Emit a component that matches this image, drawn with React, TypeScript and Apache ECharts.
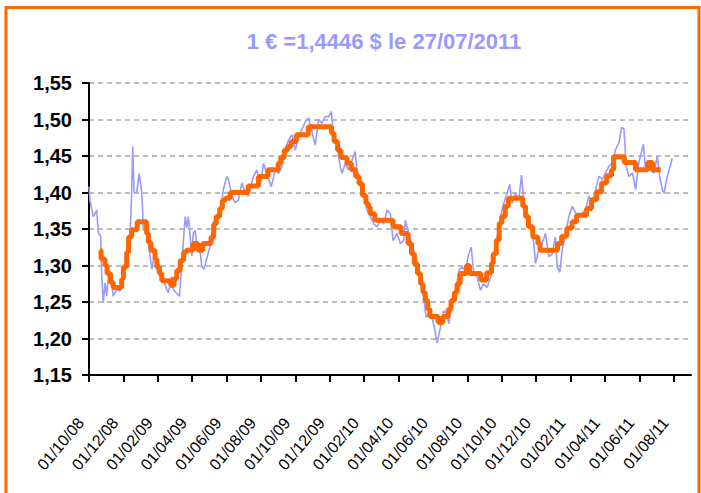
import React, { useEffect, useRef } from "react";
import * as echarts from "echarts";

// Month index: 0 = 01/10/2008, 2 = 01/12/2008, ... 34 = 01/08/2011
const xTickLabels = [
  "01/10/08", "01/12/08", "01/02/09", "01/04/09", "01/06/09", "01/08/09",
  "01/10/09", "01/12/09", "01/02/10", "01/04/10", "01/06/10", "01/08/10",
  "01/10/10", "01/12/10", "01/02/11", "01/04/11", "01/06/11", "01/08/11",
];

const titleText = "1 € =1,4446 $ le 27/07/2011";

// Daily EUR/USD rate (month index, rate)
const dailyRate: [number, number][] = [
  [0.0, 1.408], [0.06, 1.388], [0.25, 1.367], [0.45, 1.376], [0.54, 1.345], [0.68, 1.34],
  [0.74, 1.285], [0.83, 1.249], [0.93, 1.276], [1.03, 1.258], [1.12, 1.285], [1.32, 1.276],
  [1.41, 1.258], [1.61, 1.267], [1.8, 1.265], [2.0, 1.29], [2.19, 1.313], [2.39, 1.34],
  [2.48, 1.4], [2.54, 1.463], [2.62, 1.4], [2.78, 1.4], [2.91, 1.426], [3.07, 1.4],
  [3.16, 1.349], [3.36, 1.345], [3.55, 1.313], [3.65, 1.295], [3.84, 1.32], [3.94, 1.295],
  [4.13, 1.285], [4.33, 1.281], [4.52, 1.267], [4.62, 1.263], [4.81, 1.285], [4.91, 1.267],
  [5.1, 1.262], [5.26, 1.258], [5.4, 1.304], [5.59, 1.367], [5.69, 1.352], [5.78, 1.367],
  [5.98, 1.313], [6.07, 1.345], [6.17, 1.348], [6.27, 1.327], [6.36, 1.32], [6.46, 1.318],
  [6.56, 1.299], [6.69, 1.295], [6.85, 1.31], [7.04, 1.327], [7.24, 1.359], [7.43, 1.367],
  [7.63, 1.372], [7.82, 1.405], [8.01, 1.422], [8.11, 1.418], [8.31, 1.395], [8.5, 1.386],
  [8.69, 1.39], [8.89, 1.413], [9.08, 1.4], [9.26, 1.395], [9.56, 1.422], [9.76, 1.431],
  [9.95, 1.41], [10.15, 1.44], [10.34, 1.425], [10.54, 1.412], [10.6, 1.408], [10.83, 1.431],
  [11.02, 1.426], [11.21, 1.435], [11.41, 1.458], [11.6, 1.472], [11.8, 1.479], [12.0, 1.458],
  [12.19, 1.477], [12.38, 1.486], [12.57, 1.497], [12.77, 1.502], [12.96, 1.483], [13.15, 1.465],
  [13.35, 1.5], [13.54, 1.495], [13.74, 1.504], [13.93, 1.504], [14.09, 1.511], [14.22, 1.477],
  [14.42, 1.463], [14.61, 1.435], [14.71, 1.426], [14.9, 1.44], [15.09, 1.431], [15.29, 1.444],
  [15.48, 1.456], [15.58, 1.431], [15.77, 1.417], [15.97, 1.403], [16.16, 1.376], [16.36, 1.367],
  [16.55, 1.357], [16.75, 1.353], [16.94, 1.362], [17.14, 1.357], [17.33, 1.376], [17.52, 1.371],
  [17.68, 1.334], [17.91, 1.344], [18.1, 1.33], [18.3, 1.334], [18.39, 1.362], [18.59, 1.344],
  [18.78, 1.33], [18.98, 1.311], [19.17, 1.298], [19.27, 1.275], [19.46, 1.256], [19.6, 1.229],
  [19.75, 1.234], [19.95, 1.229], [20.08, 1.215], [20.24, 1.194], [20.43, 1.215], [20.62, 1.238],
  [20.82, 1.234], [20.91, 1.22], [21.11, 1.247], [21.3, 1.261], [21.5, 1.293], [21.69, 1.298],
  [21.88, 1.293], [22.08, 1.316], [22.22, 1.325], [22.37, 1.29], [22.57, 1.284], [22.76, 1.266],
  [22.92, 1.275], [23.15, 1.27], [23.34, 1.284], [23.53, 1.307], [23.73, 1.339], [23.92, 1.367],
  [24.11, 1.385], [24.31, 1.399], [24.46, 1.411], [24.6, 1.385], [24.8, 1.399], [24.99, 1.39],
  [25.15, 1.424], [25.29, 1.385], [25.48, 1.367], [25.67, 1.353], [25.86, 1.33], [25.96, 1.303],
  [26.15, 1.321], [26.35, 1.33], [26.54, 1.344], [26.73, 1.312], [26.93, 1.316], [27.12, 1.339],
  [27.22, 1.298], [27.37, 1.291], [27.51, 1.321], [27.71, 1.344], [27.9, 1.367], [28.1, 1.381],
  [28.29, 1.372], [28.48, 1.367], [28.68, 1.372], [28.87, 1.376], [29.06, 1.395], [29.26, 1.385],
  [29.45, 1.404], [29.65, 1.422], [29.84, 1.418], [30.03, 1.427], [30.23, 1.436], [30.42, 1.441],
  [30.62, 1.459], [30.81, 1.468], [30.96, 1.489], [31.1, 1.487], [31.24, 1.436], [31.39, 1.422],
  [31.59, 1.427], [31.78, 1.404], [31.97, 1.441], [32.23, 1.466], [32.36, 1.431], [32.56, 1.431],
  [32.85, 1.427], [33.04, 1.45], [33.18, 1.422], [33.33, 1.404], [33.43, 1.399], [33.62, 1.422],
  [33.91, 1.447],
];

// Stepped average (start of each level, level value)
const averageRate: [number, number][] = [
  [0.64, 1.321], [0.7, 1.309], [0.93, 1.3], [1.05, 1.289], [1.25, 1.277], [1.41, 1.27],
  [1.9, 1.282], [2.0, 1.298], [2.19, 1.318], [2.3, 1.339], [2.48, 1.349], [2.8, 1.36],
  [3.35, 1.344], [3.45, 1.332], [3.6, 1.321], [3.84, 1.309], [3.95, 1.298], [4.1, 1.289],
  [4.23, 1.279], [4.75, 1.273], [4.95, 1.282], [5.1, 1.293], [5.3, 1.307], [5.5, 1.318],
  [5.65, 1.321], [6.05, 1.33], [6.33, 1.321], [6.62, 1.33], [7.1, 1.339], [7.25, 1.357],
  [7.4, 1.367], [7.6, 1.378], [7.75, 1.389], [7.92, 1.392], [8.21, 1.4], [9.25, 1.409],
  [9.85, 1.422], [10.4, 1.431], [11.0, 1.44], [11.15, 1.448], [11.35, 1.458], [11.55, 1.463],
  [11.75, 1.47], [12.05, 1.479], [12.75, 1.49], [14.1, 1.481], [14.25, 1.47], [14.45, 1.458],
  [14.65, 1.448], [15.0, 1.44], [15.25, 1.431], [15.5, 1.422], [15.7, 1.412], [15.9, 1.396],
  [16.1, 1.385], [16.25, 1.38], [16.35, 1.371], [16.62, 1.362], [17.68, 1.353], [18.15, 1.344],
  [18.55, 1.33], [18.75, 1.316], [18.92, 1.302], [19.1, 1.289], [19.28, 1.275], [19.42, 1.263],
  [19.55, 1.252], [19.7, 1.24], [19.82, 1.23], [20.3, 1.222], [20.58, 1.23], [20.88, 1.24],
  [21.05, 1.252], [21.25, 1.263], [21.4, 1.275], [21.58, 1.289], [21.95, 1.3], [22.12, 1.289],
  [22.78, 1.28], [23.12, 1.29], [23.4, 1.303], [23.5, 1.316], [23.68, 1.335], [23.85, 1.358],
  [24.0, 1.367], [24.2, 1.381], [24.38, 1.392], [25.22, 1.381], [25.38, 1.367], [25.55, 1.353],
  [25.8, 1.339], [26.1, 1.33], [26.22, 1.321], [27.24, 1.33], [27.48, 1.34], [27.78, 1.351],
  [28.08, 1.36], [28.35, 1.369], [28.93, 1.378], [29.22, 1.39], [29.52, 1.401], [29.8, 1.413],
  [30.1, 1.423], [30.38, 1.431], [30.5, 1.449], [31.12, 1.441], [31.78, 1.431], [32.48, 1.441],
  [32.77, 1.431], [33.24, 1.431],
];

const FONT = '"Liberation Sans", Arial, sans-serif';

export default function App() {
  const ref = useRef<HTMLDivElement>(null);

  useEffect(() => {
    if (!ref.current) return;
    const chart = echarts.init(ref.current, null, { renderer: "svg" });
    const tickValues = xTickLabels.map((_, i) => i * 2);
    chart.setOption({
      animation: false,
      backgroundColor: "#ffffff",
      graphic: [
        {
          type: "rect",
          shape: { x: 6, y: 7.5, width: 693, height: 500 },
          style: { fill: "none", stroke: "#FF6600", lineWidth: 3 },
          silent: true,
        },
        {
          type: "text",
          x: 384,
          y: 41,
          style: {
            text: titleText,
            fill: "#9999FF",
            font: `bold 22px ${FONT}`,
            align: "center",
            verticalAlign: "middle",
            textAlign: "center",
            textVerticalAlign: "middle",
          },
        },
      ],
      grid: { left: 89, right: 10, top: 83, bottom: 118, containLabel: false },
      xAxis: {
        type: "value",
        min: 0,
        max: 35,
        interval: 2,
        axisLine: { show: true, lineStyle: { color: "#000", width: 2 } },
        axisTick: {
          show: true,
          inside: false,
          length: 7,
          lineStyle: { color: "#000", width: 2 },
          customValues: tickValues,
        },
        axisLabel: {
          customValues: tickValues,
          rotate: 50,
          margin: 35,
          padding: [0, 13, 0, 0],
          fontSize: 16,
          fontFamily: FONT,
          color: "#000",
          formatter: (v: number) => xTickLabels[Math.round(v / 2)] ?? "",
        },
        splitLine: { show: false },
      },
      yAxis: {
        type: "value",
        min: 1.15,
        max: 1.55,
        interval: 0.05,
        axisLine: { show: true, lineStyle: { color: "#000", width: 2 } },
        axisTick: { show: true, length: 7, lineStyle: { color: "#000", width: 2 } },
        axisLabel: {
          margin: 17,
          fontSize: 20,
          fontWeight: "bold",
          fontFamily: FONT,
          color: "#000",
          formatter: (v: number) => v.toFixed(2).replace(".", ","),
        },
        splitLine: {
          show: true,
          lineStyle: { color: "#BBBBBB", width: 2, type: [5, 4] },
        },
      },
      series: [
        {
          type: "line",
          data: dailyRate,
          symbol: "none",
          lineStyle: { color: "#9999FF", width: 1.6 },
          z: 2,
        },
        {
          type: "line",
          data: averageRate,
          step: "end",
          symbol: "none",
          lineStyle: { color: "#FF6600", width: 5, join: "bevel" },
          z: 3,
        },
      ],
    });
    return () => chart.dispose();
  }, []);

  return (
    <div
      ref={ref}
      style={{ position: "absolute", left: 0, top: 0, width: 701, height: 493 }}
    />
  );
}
